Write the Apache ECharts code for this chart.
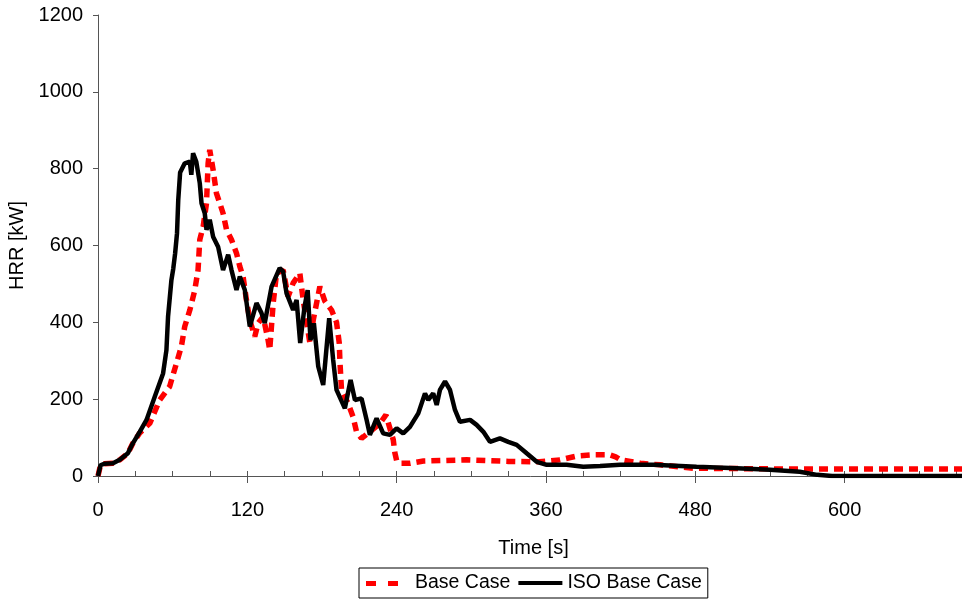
<!DOCTYPE html>
<html>
<head>
<meta charset="utf-8">
<script src="https://cdn.jsdelivr.net/npm/echarts@6/dist/echarts.min.js"></script>
<style>
  html, body { margin: 0; padding: 0; background: #fff; }
  #chart { width: 962px; height: 601px; }
</style>
</head>
<body>
<div id="chart"></div>
<script>
// Base Case (red dashed)
var baseTime = [0, 2, 5, 12, 17.5, 24, 28, 33.5, 41.6, 49.6, 57.6, 63, 67, 69.7, 73.8, 77.8, 80.4, 81.8, 84.5, 87.2,
  88.5, 89.8, 92.5, 95.2, 97.9, 100.5, 103.3, 107.3, 111.3, 114, 116.6, 119.3, 122, 126, 128.7, 132.7, 136.7, 138,
  140.8, 143.5, 148.8, 152.8, 156.8, 162.2, 164.9, 170.3, 173, 178.3, 182.3, 187.7, 191.7, 193.9, 194.4, 195.7, 201,
  205, 207.8, 211.8, 218.5, 226.6, 231.4, 234.6, 237.3, 238.6, 240, 242.7, 250.7, 261.6, 296.3, 330, 355, 371.3,
  384.8, 398, 411.5, 416, 420, 436, 452, 478.6, 489, 560, 620, 700]
var baseHrr = [0, 28, 32, 33, 42, 59, 85, 112, 137, 198, 233, 293, 337, 389, 432, 484, 536, 615, 649, 710,
  814, 849, 797, 736, 710, 684, 641, 615, 580, 545, 519, 458, 406, 363, 398, 415, 354, 328,
  450, 528, 536, 467, 502, 528, 458, 346, 406, 493, 455, 432, 400, 346, 300, 224, 189,
  154, 115, 98, 115, 137, 159, 124, 94, 60, 40, 33, 33, 39, 42, 38, 37, 42,
  52, 55, 55, 50, 42, 33, 29, 20, 20, 18, 18, 18]

// ISO Base Case (black)
var isoTime = [0, 2, 5, 12, 17.5, 24, 28, 33.5, 39, 45.6, 52.3, 55, 56.3, 59, 60.5, 62, 63.5, 64.5, 66, 69.7, 73.8,
  75, 76.4, 79, 81.8, 83.2, 85.8, 87.2, 89.8, 92.5, 96.5, 100.5, 104.6, 107.3, 111.3, 114, 118, 122, 127.4, 131.4,
  134, 139.5, 146, 148.8, 151.5, 156.8, 159.6, 162.5, 166, 168.5, 170.8, 173.5, 177, 181, 185.8, 189, 191.7, 198.4,
  203, 206.5, 211.8, 215.9, 218.5, 223.9, 229.2, 234.6, 240, 245.3, 250.7, 257.4, 262.8, 265.4, 269.4, 272.2,
  274.8, 278.9, 282.9, 286.9, 290.9, 299, 304.3, 309.7, 315, 323, 329.7, 336.5, 344.5, 352.6, 360.6, 376.7, 390,
  403.5, 419.6, 446.5, 481, 513.5, 540, 564, 578, 590, 700]
var isoHrr = [0, 28, 32, 33, 42, 59, 85, 115, 146, 206, 267, 328, 415, 510, 540, 580, 632, 719, 790, 814, 818,
  784, 840, 818, 762, 710, 684, 641, 667, 623, 597, 536, 576, 536, 484, 519, 484, 389, 450, 424,
  398, 493, 541, 532, 476, 432, 458, 346, 441, 484, 354, 398, 285, 237, 411, 302, 224, 176,
  250, 198, 202, 146, 107, 150, 111, 107, 124, 111, 128, 163, 215, 198, 215, 185,
  224, 246, 224, 172, 141, 146, 133, 115, 89, 98, 89, 81, 59, 37, 29, 29, 24,
  26, 29, 29, 24, 20, 16, 11, 3, 0, 0]

var xTicks = [0, 120, 240, 360, 480, 600]
var yTicks = [0, 200, 400, 600, 800, 1000, 1200]
var xMax = 700

function zip(a, b) {
  return a.map(function (t, i) { return [t, b[i]] })
}

var font = "'Liberation Sans', Arial, sans-serif"
var fontSize = 20
var myChart = echarts.init(document.getElementById('chart'))

var option = {
  animation: false,
  textStyle: { fontFamily: font, color: '#000' },
  // the plot runs a little past the right edge of the picture
  grid: { left: 98, right: -7, top: 15, bottom: 125, containLabel: false, outerBoundsMode: 'none' },
  legend: {
    data: [
      // two red dashes, like the dashed series
      { name: 'Base Case', icon: 'path://M0,0M44,14M0,5h10v5h-10zM22,5h10v5h-10z' },
      { name: 'ISO Base Case', icon: 'path://M0,0M44,14M0,5h44v4h-44z' }
    ],
    left: 359,
    top: 568,
    padding: [5, 6, 5, 7],
    itemGap: 8,
    itemWidth: 44,
    itemHeight: 14,
    borderColor: '#000',
    borderWidth: 1,
    textStyle: { fontFamily: font, fontSize: 19.5, color: '#000' }
  },
  xAxis: [
    {
      type: 'value',
      position: 'bottom',
      min: xTicks[0],
      max: xMax,
      interval: 120,
      name: 'Time [s]',
      nameLocation: 'middle',
      nameGap: 62,
      nameTextStyle: { fontFamily: font, fontSize: fontSize, color: '#000' },
      axisLine: { show: true, lineStyle: { color: '#555', width: 1 } },
      axisTick: { show: true, inside: false, length: 7, lineStyle: { color: '#555' } },
      axisLabel: {
        fontFamily: font, fontSize: fontSize, color: '#000', margin: 24, showMaxLabel: false,
        formatter: function (v) { return String(v) }
      },
      splitLine: { show: false }
    },
    {
      // minor ticks, pointing into the plot
      type: 'value',
      position: 'bottom',
      min: xTicks[0],
      max: xMax,
      interval: 30,
      axisLine: { show: false },
      axisTick: { show: true, inside: true, length: 5, lineStyle: { color: '#555' } },
      axisLabel: { show: false },
      splitLine: { show: false }
    }
  ],
  yAxis: {
    type: 'value',
    min: yTicks[0],
    max: yTicks[yTicks.length - 1],
    interval: 200,
    name: 'HRR [kW]',
    nameLocation: 'middle',
    nameGap: 66,
    nameTextStyle: { fontFamily: font, fontSize: fontSize, color: '#000' },
    axisLine: { show: true, lineStyle: { color: '#555', width: 1 } },
    axisTick: { show: true, inside: false, length: 5, lineStyle: { color: '#555' } },
    axisLabel: { fontFamily: font, fontSize: fontSize, color: '#000', margin: 15, formatter: function (v) { return String(v) } },
    splitLine: { show: false }
  },
  series: [
    {
      name: 'Base Case',
      type: 'line',
      data: zip(baseTime, baseHrr),
      showSymbol: false,
      symbol: 'none',
      color: '#ff0000',
      lineStyle: { color: '#ff0000', width: 5.5, type: [9, 6] }
    },
    {
      name: 'ISO Base Case',
      type: 'line',
      data: zip(isoTime, isoHrr),
      showSymbol: false,
      symbol: 'none',
      color: '#000',
      lineStyle: { color: '#000', width: 4.5 }
    }
  ]
}
myChart.setOption(option)
</script>
</body>
</html>
